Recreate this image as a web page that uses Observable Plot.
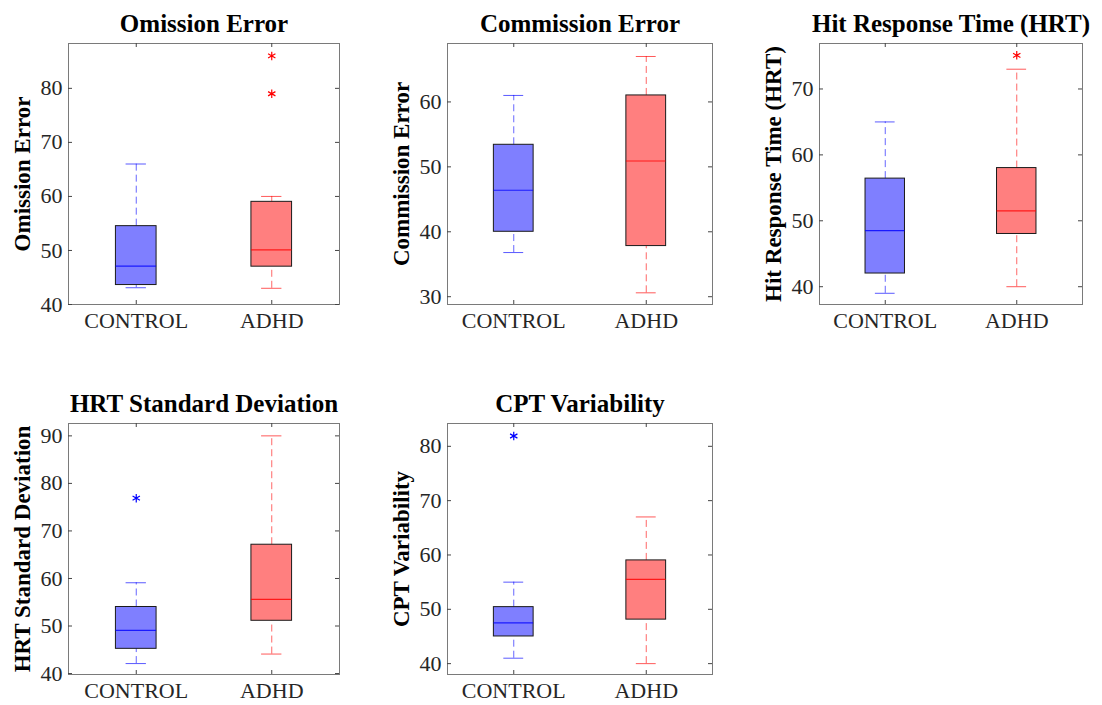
<!DOCTYPE html>
<html><head><meta charset="utf-8">
<script src="https://cdn.jsdelivr.net/npm/d3@7"></script>
<script src="https://cdn.jsdelivr.net/npm/@observablehq/plot@0.6"></script>
<style>
body{margin:0;background:#fff;}
#wrap{position:relative;width:1102px;height:705px;overflow:hidden;background:#fff;}
#wrap svg{position:absolute;left:0;top:0;}
</style></head><body><div id="wrap"></div>
<script>
// ---- data ----
const groups = ["CONTROL", "ADHD"];
const panelTitles = ["Omission Error", "Commission Error", "Hit Response Time (HRT)", "HRT Standard Deviation", "CPT Variability"];
const whiskerLow  = [[43.1, 43], [36.8, 30.6], [39, 40], [42.1, 44.1], [41, 40]];
const quart1      = [[43.6, 47], [40, 37.8], [42, 48], [45.2, 51.1], [45, 48.1]];
const medians     = [[47.1, 50.1], [46.4, 50.9], [48.5, 51.5], [49.1, 55.6], [47.5, 55.5]];
const quart3      = [[54.5, 59], [53.4, 61], [56.4, 58], [54, 67.1], [50.4, 59]];
const whiskerHigh = [[66, 60], [61, 67], [65, 73], [59.1, 90], [55, 67]];
const outliers    = [[[], [79, 86]], [[], []], [[], [75.1]], [[76.9], []], [[81.9], []]];
const yDomains    = [[40, 88.3], [28.8, 69], [37.3, 76.9], [39.8, 92.6], [38, 84.2]];
const yTicks      = [[40, 50, 60, 70, 80], [30, 40, 50, 60], [40, 50, 60, 70], [40, 50, 60, 70, 80, 90], [40, 50, 60, 70, 80]];

// ---- layout (frame edges in page pixels: left, top, right, bottom) ----
const frames = [[68, 43, 339, 304], [447, 43, 712, 304], [819, 43, 1082, 304], [68, 423, 339, 674], [447, 423, 712, 674]];
const W = 1102, H = 705;
const boxHalf = 0.15, capHalf = 0.075;
const lineColors = {CONTROL: "#0000ff", ADHD: "#ff0000"};
const font = "'Liberation Serif', 'Times New Roman', Times, serif";

const wrap = document.getElementById("wrap");

panelTitles.forEach((title, p) => {
  const [x0, y0, x1, y1] = frames[p];
  const fw = x1 - x0, fh = y1 - y0;
  const rows = groups.map((g, j) => ({
    x: j + 1, group: g,
    lo: whiskerLow[p][j], q1: quart1[p][j], med: medians[p][j], q3: quart3[p][j], hi: whiskerHigh[p][j]
  }));
  const outRows = groups.flatMap((g, j) => outliers[p][j].map(v => ({x: j + 1, group: g, y: v})));
  const col = d => lineColors[d.group];

  const chart = Plot.plot({
    width: W, height: H,
    marginLeft: x0, marginTop: y0, marginRight: W - x1, marginBottom: H - y1,
    x: {domain: [0.5, 2.5]},
    y: {domain: yDomains[p]},
    style: {fontFamily: font, background: "transparent", color: "#262626", overflow: "visible"},
    marks: [
      // whiskers
      Plot.ruleX(rows, {x: "x", y1: "q3", y2: "hi", stroke: col, strokeOpacity: 0.6, strokeDasharray: "7,4"}),
      Plot.ruleX(rows, {x: "x", y1: "lo", y2: "q1", stroke: col, strokeOpacity: 0.6, strokeDasharray: "7,4"}),
      Plot.ruleY(rows, {y: "hi", x1: d => d.x - capHalf, x2: d => d.x + capHalf, stroke: col, strokeOpacity: 0.65}),
      Plot.ruleY(rows, {y: "lo", x1: d => d.x - capHalf, x2: d => d.x + capHalf, stroke: col, strokeOpacity: 0.65}),
      // boxes
      Plot.rect(rows, {x1: d => d.x - boxHalf, x2: d => d.x + boxHalf, y1: "q1", y2: "q3",
        fill: col, fillOpacity: 0.5, stroke: "#1a1a1a", strokeWidth: 1}),
      // medians
      Plot.ruleY(rows, {y: "med", x1: d => d.x - boxHalf, x2: d => d.x + boxHalf, stroke: col, strokeWidth: 1.2, strokeOpacity: 0.8}),
      // outliers
      Plot.dot(outRows, {x: "x", y: "y", symbol: "asterisk", r: 4, stroke: col, strokeWidth: 1.2}),
      // frame and inner ticks
      Plot.frame({stroke: "#7a7a7a", strokeWidth: 1}),
      Plot.tickY(yTicks[p], {y: d => d, insetRight: fw - 4, stroke: "#444"}),
      Plot.tickY(yTicks[p], {y: d => d, insetLeft: fw - 4, stroke: "#444"}),
      Plot.tickX([1, 2], {x: d => d, insetBottom: fh - 4, stroke: "#444"}),
      Plot.tickX([1, 2], {x: d => d, insetTop: fh - 4, stroke: "#444"}),
      // axes
      Plot.axisY({ticks: yTicks[p], tickSize: 0, tickPadding: 6, fontSize: 22, label: null}),
      Plot.axisX({ticks: [1, 2], tickFormat: d => groups[d - 1], tickSize: 0, tickPadding: 8, fontSize: 22, label: null}),
      // title and y label
      Plot.text([title], {text: d => d, frameAnchor: "top", lineAnchor: "middle", dy: -20, fontSize: 25, fontWeight: "bold", fill: "black"}),
      Plot.text([title], {text: d => d, frameAnchor: "left", textAnchor: "middle", rotate: -90, dx: -46, fontSize: 23, fontWeight: "bold", fill: "black"})
    ]
  });
  wrap.appendChild(chart);
});
</script>
</body></html>
